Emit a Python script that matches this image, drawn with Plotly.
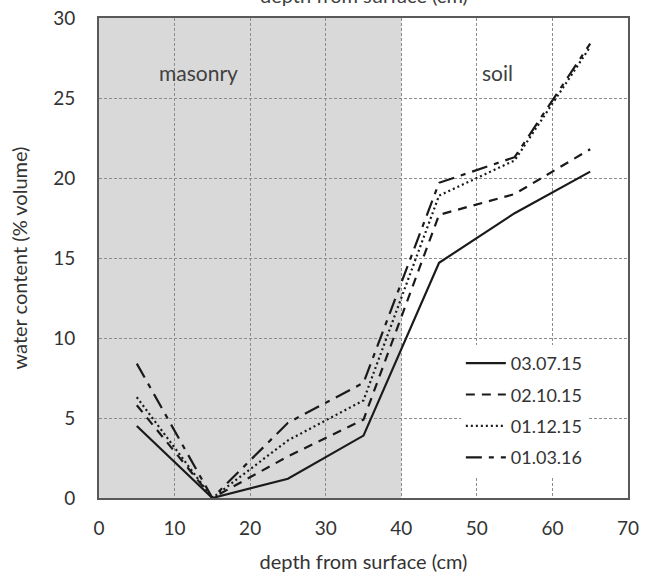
import plotly.graph_objects as go

depth = [5, 15, 25, 35, 45, 55, 65]
series_names = ["03.07.15", "02.10.15", "01.12.15", "01.03.16"]
s_030715 = [4.5, 0.0, 1.2, 3.9, 14.7, 17.8, 20.4]
s_021015 = [5.8, 0.0, 2.6, 4.9, 17.7, 19.0, 21.8]
s_011215 = [6.3, 0.0, 3.6, 6.1, 18.9, 21.1, 28.2]
s_010316 = [8.4, 0.0, 4.7, 7.2, 19.7, 21.3, 28.4]
series_values = [s_030715, s_021015, s_011215, s_010316]
dash_specs = ["solid", "9px,7px", "2px,3px", "16px,7px,5px,7px"]

x_ticks = [0, 10, 20, 30, 40, 50, 60, 70]
y_ticks = [0, 5, 10, 15, 20, 25, 30]
masonry_range = [0, 40]
zone_labels = [("masonry", 13.2, 26.6), ("soil", 52.7, 26.6)]

FONT = "Lato, 'Open Sans', sans-serif"
TXT = "#333333"

fig = go.Figure()
for i, (name, vals) in enumerate(zip(series_names, series_values)):
    fig.add_trace(go.Scatter(
        x=depth, y=vals, name=name, mode="lines",
        legendgroup=name,
        line=dict(color="#1a1a1a", width=2.2, dash=dash_specs[i]),
    ))

fig.add_shape(type="rect", xref="x", yref="y",
              x0=masonry_range[0], x1=masonry_range[1], y0=y_ticks[0], y1=y_ticks[-1],
              fillcolor="#d9d9d9", line=dict(width=0), layer="below")

for txt, xv, yv in zone_labels:
    fig.add_annotation(x=xv, y=yv, xref="x", yref="y", text=txt, showarrow=False,
                       font=dict(family=FONT, size=21, color="#404040"))

# cut-off duplicate title at the very top (cut off in the reference too)
fig.add_annotation(x=0.5, y=1.048, xref="paper", yref="paper",
                   text="depth from surface (cm)", showarrow=False, yanchor="middle",
                   font=dict(family=FONT, size=20, color="#404040"))

grid = dict(showgrid=True, gridcolor="#8c8c8c", gridwidth=1, griddash="3px,2px")
fig.update_xaxes(range=[x_ticks[0], x_ticks[-1]], tickvals=x_ticks, **grid,
                 showline=True, linecolor="#595959", linewidth=2, mirror=True,
                 zeroline=False, ticks="", ticklabelstandoff=12, automargin=False,
                 tickfont=dict(family=FONT, size=19, color=TXT),
                 title=dict(text="depth from surface (cm)", standoff=17,
                            font=dict(family=FONT, size=20, color=TXT)))
fig.update_yaxes(range=[y_ticks[0], y_ticks[-1]], tickvals=y_ticks, **grid,
                 showline=True, linecolor="#595959", linewidth=2, mirror=True,
                 zeroline=False, ticks="", ticklabelstandoff=18, automargin=False,
                 tickfont=dict(family=FONT, size=19, color=TXT),
                 title=dict(text="water content (% volume)", standoff=20,
                            font=dict(family=FONT, size=20, color=TXT)))

fig.update_layout(
    width=650, height=576,
    margin=dict(l=99, r=22, t=18, b=78),
    paper_bgcolor="white", plot_bgcolor="white",
    font=dict(family=FONT, size=18, color=TXT),
    legend=dict(x=0.684, y=0.319, xanchor="left", yanchor="top",
                bgcolor="white", borderwidth=0, tracegroupgap=5,
                font=dict(family=FONT, size=18, color=TXT),
                itemwidth=40),
    showlegend=True,
)

fig.write_html("out.html", config={"displayModeBar": False},
               post_script="document.body.style.margin='0';")
